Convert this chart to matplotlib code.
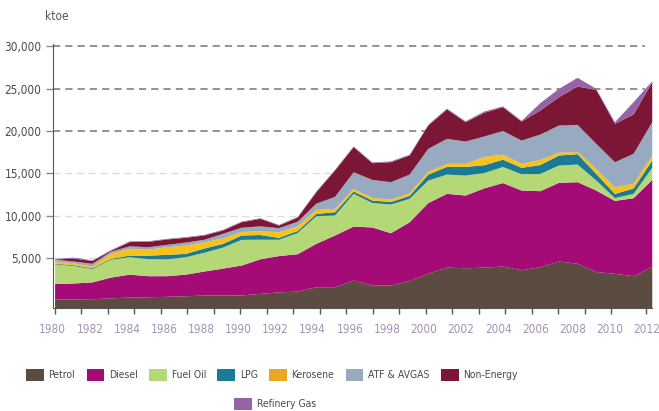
import numpy as np
import matplotlib.pyplot as plt
from matplotlib.patches import Patch

plt.rcParams['font.family'] = ['DejaVu Sans']
plt.rcParams['font.stretch'] = 'condensed'

years = list(range(1980, 2013))

petrol = [210, 230, 250, 350, 450, 480, 530, 600, 680, 680, 690, 880, 1050, 1150, 1660, 1660,
          2450, 1860, 1860, 2400, 3240, 3980, 3890, 3970, 4100, 3650, 4020, 4690, 4420, 3450,
          3240, 2960, 4020]
diesel = [1820, 1870, 1980, 2450, 2690, 2480, 2430, 2540, 2830, 3170, 3525, 4070, 4280, 4400,
          5110, 6090, 6350, 6840, 6160, 6910, 8330, 8680, 8570, 9330, 9830, 9400, 8950, 9260,
          9610, 9600, 8590, 9180, 10280]
fuel_oil = [2320, 2050, 1570, 2100, 2050, 2000, 1980, 2050, 2210, 2480, 3025, 2310, 1920, 2500,
            3250, 2350, 3860, 2880, 3380, 2760, 2655, 2270, 2350, 1810, 1890, 1920, 2030, 2040,
            2080, 1175, 330, 520, 1420]
lpg = [80, 100, 100, 100, 200, 420, 535, 400, 500, 440, 510, 550, 230, 230, 280, 390, 270, 290,
       300, 350, 705, 900, 1020, 920, 860, 750, 1050, 1180, 1220, 775, 490, 630, 860]
kerosene = [250, 230, 200, 620, 790, 720, 895, 980, 730, 650, 430, 430, 660, 550, 470, 400, 320,
            300, 300, 300, 330, 360, 360, 980, 600, 470, 610, 330, 270, 600, 790, 550, 590]
atf = [220, 210, 320, 230, 300, 270, 280, 350, 300, 530, 490, 590, 480, 540, 730, 1410, 1950,
       2130, 2030, 2210, 2700, 2940, 2630, 2400, 2780, 2740, 2980, 3200, 3180, 2950, 2940, 3530,
       3920]
non_energy = [20, 360, 330, 100, 500, 630, 630, 560, 500, 390, 640, 880, 300, 490, 1350, 3100,
              2950, 1960, 2350, 2240, 2740, 3460, 2270, 2790, 2800, 2240, 2830, 3340, 4510, 6350,
              4520, 4630, 4710]
refinery_gas = [80, 100, 70, 80, 80, 80, 80, 80, 80, 80, 80, 80, 80, 80, 80, 80, 100, 100, 100,
                100, 100, 110, 110, 150, 100, 80, 860, 980, 1030, 120, 190, 1450, 120]

names = ['Petrol', 'Diesel', 'Fuel Oil', 'LPG', 'Kerosene', 'ATF & AVGAS', 'Non-Energy',
         'Refinery Gas']
colors = ['#5c4b40', '#a50b76', '#b5d877', '#1b7a96', '#f6c21c', '#98aabf', '#7b1734',
          '#9862a8']
legend_colors = ['#5c4b40', '#a50b76', '#b5d877', '#1b7a96', '#e9a823', '#98aabf', '#7b1734',
                 '#9862a8']
series = [petrol, diesel, fuel_oil, lpg, kerosene, atf, non_energy, refinery_gas]

y_bottom = -810

fig = plt.figure(figsize=(6.59, 4.11), dpi=100)
ax = fig.add_axes([0.080, 0.2513, 0.909, 0.6428])

x = np.array(years)
base = np.full(len(years), float(y_bottom))
for vals, c in zip(series, colors):
    top = base + np.array(vals)
    if vals is petrol:
        top = np.array(vals, dtype=float)
    ax.fill_between(x, base, top, color=c, lw=0, zorder=2)
    base = top

# gridlines
for v in [5000, 10000, 15000]:
    ax.axhline(v, xmax=0.989, color='#dcdcdc', lw=1.0, ls=(0, (5, 3.5)), zorder=1)
for v in [20000, 25000, 30000]:
    ax.axhline(v, xmax=0.989, color='#8a8a8a', lw=1.3, ls=(0, (4, 2.8)), zorder=1)

ax.set_xlim(1980, 2012)
ax.set_ylim(y_bottom, 30300)

yt = [5000, 10000, 15000, 20000, 25000, 30000]
ax.set_yticks(yt)
ax.set_yticklabels([f'{v:,}' for v in yt], fontsize=8.5, color='#4a4a4a')
ax.tick_params(axis='y', length=5, width=1, color='#8a8a8a', pad=3)

label_years = list(range(1980, 2013, 2))
ax.set_xticks(np.linspace(1979.9, 2011.73, len(label_years)))
ax.set_xticklabels([str(y) for y in label_years], fontsize=8.5, color='#a393b5')
ax.tick_params(axis='x', which='major', length=0, pad=11)
ax.set_xticks(list(1980 + 1.421 * np.arange(22)) + [2011.7], minor=True)
ax.tick_params(axis='x', which='minor', length=4, width=1, color='#555555')

for s in ['top', 'right']:
    ax.spines[s].set_visible(False)
ax.spines['left'].set_color('#555555')
ax.spines['bottom'].set_color('#555555')
ax.spines['left'].set_zorder(3)

fig.text(45 / 659, 1 - 16 / 411, 'ktoe', fontsize=8.5, color='#555555', ha='left', va='center')

handles = [Patch(facecolor=c, edgecolor='none') for c in legend_colors]
leg1 = fig.legend(handles[:7], names[:7], ncol=7, loc='center',
                  bbox_to_anchor=(272 / 659, 1 - 375 / 411), frameon=False, fontsize=7.5,
                  handlelength=1.7, handleheight=1.35, handletextpad=0.45, columnspacing=1.1,
                  labelcolor='#4a4a4a')
leg2 = fig.legend(handles[7:], names[7:], ncol=1, loc='center',
                  bbox_to_anchor=(275 / 659, 1 - 404 / 411), frameon=False, fontsize=7.5,
                  handlelength=1.7, handleheight=1.35, handletextpad=0.45,
                  labelcolor='#4a4a4a')

fig.savefig('out.png', dpi=100)
